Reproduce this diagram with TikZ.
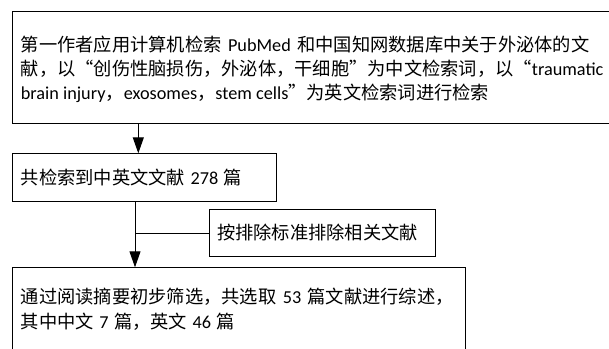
\documentclass[tikz,border=0pt]{standalone}
\usepackage{fontspec}
\setmainfont{Carlito}
\newfontfamily\cjk{Noto Sans CJK SC}
\usetikzlibrary{arrows.meta}
\newcommand{\zlq}{\makebox[1em][r]{\cjk “}}
\newcommand{\zrq}{\makebox[1em][l]{\cjk ”}}
\tikzset{
  boxshape/.style={draw=black, line width=1pt, inner sep=0pt, anchor=north west},
  txt/.style={anchor=base west, inner sep=0pt, font=\fontsize{18.25}{24}\selectfont},
  conn/.style={draw=black, line width=1pt},
  arr/.style={conn, -{Triangle[width=11pt,length=16pt]}}
}
\begin{document}
\begin{tikzpicture}[x=1pt,y=-1pt]
\useasboundingbox (0,0) rectangle (609,348);
\clip (0,0) rectangle (609,348);
% boxes
\node[boxshape, minimum width=620pt, minimum height=112.6pt] (b1) at (11.7,10.7) {};
\node[boxshape, minimum width=264.3pt, minimum height=47.4pt] (b2) at (11.7,153.3) {};
\node[boxshape, minimum width=226.3pt, minimum height=46.4pt] (b3) at (209,209.3) {};
\node[boxshape, minimum width=453.3pt, minimum height=113pt] (b4) at (11.7,267.3) {};
% texts
\node[txt] (t1a) at (20.7,51) {{\cjk 第一作者应用计算机检索}\hspace{0.35em}PubMed\hspace{0.35em}{\cjk 和中国知网数据库中关于外泌体的文}};
\node[txt] (t1b) at (20.7,75) {{\cjk 献，以}\zlq{\cjk 创伤性脑损伤，外泌体，干细胞}\zrq{\cjk 为中文检索词，以}\zlq traumatic};
\node[txt] (t1c) at (20.7,99) {brain injury{\cjk ，}exosomes{\cjk ，}stem cells\zrq{\cjk 为英文检索词进行检索}};
\node[txt] (t2) at (20.7,184) {{\cjk 共检索到中英文文献}\hspace{0.3em}278\hspace{0.3em}{\cjk 篇}};
\node[txt] (t3) at (217,239.5) {{\cjk 按排除标准排除相关文献}};
\node[txt] (t4a) at (20.7,303) {{\cjk 通过阅读摘要初步筛选，共选取}\hspace{0.35em}53\hspace{0.35em}{\cjk 篇文献进行综述，}};
\node[txt] (t4b) at (20.7,328) {{\cjk 其中中文}\hspace{0.3em}7\hspace{0.3em}{\cjk 篇，英文}\hspace{0.3em}46\hspace{0.3em}{\cjk 篇}};
% connectors
\coordinate (ax1) at (138.3,0);
\coordinate (ax2) at (135,0);
\draw[arr] (b1.south -| ax1) -- (b2.north -| ax1);
\draw[arr] (b2.south -| ax2) -- (b4.north -| ax2);
\draw[conn] (b3.west) -- (b3.west -| ax2);
\end{tikzpicture}
\end{document}
